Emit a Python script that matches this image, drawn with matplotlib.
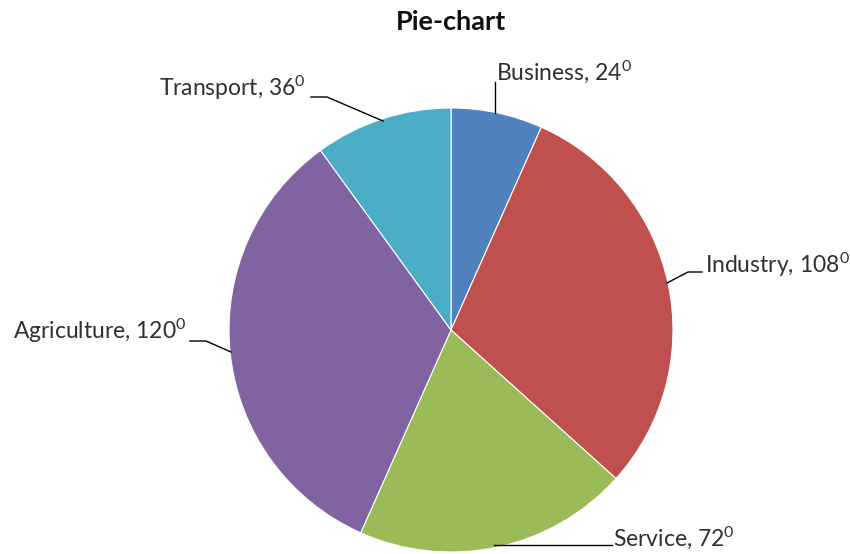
import matplotlib.pyplot as plt

plt.rcParams['font.family'] = ['Lato', 'DejaVu Sans']
plt.rcParams['mathtext.fontset'] = 'custom'
plt.rcParams['mathtext.rm'] = 'Lato'
plt.rcParams['mathtext.default'] = 'regular'

sectors = ['Business', 'Industry', 'Service', 'Agriculture', 'Transport']
degrees = [24, 108, 72, 120, 36]
colors = ['#4F81BD', '#C0504D', '#9BBB59', '#8064A2', '#4BACC6']

# label text position (pixels, y from top) and leader line points
label_pos = {
    'Business':    (496, 72, 'left'),
    'Industry':    (705, 265, 'left'),
    'Service':     (613, 538, 'left'),
    'Agriculture': (187, 331, 'right'),
    'Transport':   (306, 88, 'right'),
}
leaders = {
    'Business':    [(495, 82), (495, 113)],
    'Industry':    [(702, 272), (688, 272), (667, 283)],
    'Service':     [(612, 545), (494, 545)],
    'Agriculture': [(190, 341), (206, 341), (231, 352)],
    'Transport':   [(311, 97), (327, 97), (383, 121)],
}

W, H = 850, 554
fig = plt.figure(figsize=(8.5, 5.54), dpi=100)
ax = fig.add_axes([0, 0, 1, 1])

ax.pie(degrees, colors=colors, startangle=90, counterclock=False,
       center=(451, H - 330), radius=222,
       wedgeprops=dict(edgecolor='white', linewidth=0.8))
ax.set_xlim(0, W)
ax.set_ylim(0, H)
ax.set_aspect('equal')
ax.axis('off')

for name, deg in zip(sectors, degrees):
    x, y, ha = label_pos[name]
    ax.text(x, H - y, f'{name}, {deg}$^{{0}}$', ha=ha, va='center',
            fontsize=16.5, color='#303030')
    pts = leaders[name]
    ax.plot([p[0] for p in pts], [H - p[1] for p in pts], color='black', lw=1)

ax.text(451, H - 22, 'Pie-chart', ha='center', va='center',
        fontsize=19.5, fontweight='bold', color='#111111')

fig.savefig('out.png', dpi=100)
